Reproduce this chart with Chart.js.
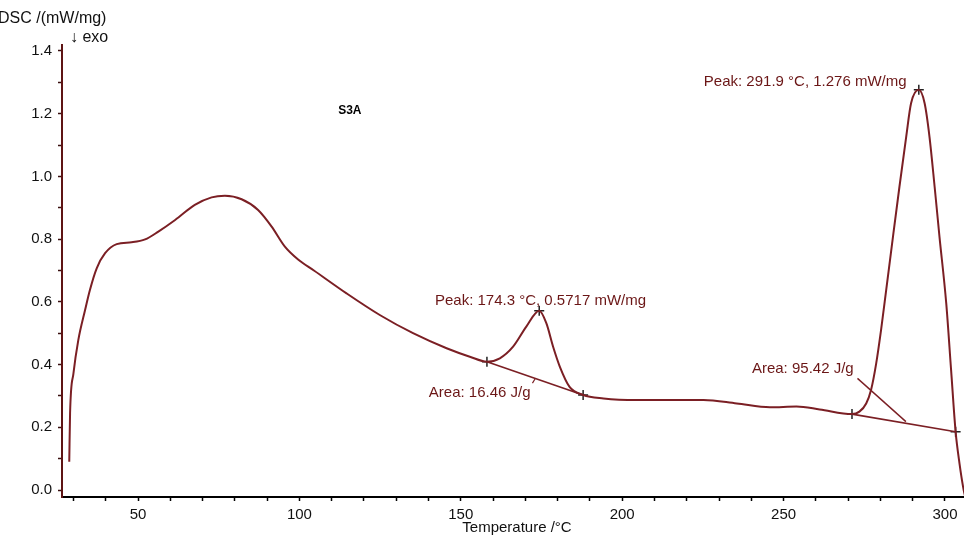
<!DOCTYPE html>
<html>
<head>
<meta charset="utf-8">
<script src="https://cdn.jsdelivr.net/npm/chart.js@4/dist/chart.umd.min.js"></script>
<style>
  body { margin: 0; background: #fff; }
  canvas { display: block; }
</style>
</head>
<body>
<canvas id="dsc" width="964" height="538"></canvas>
<script>
// DSC trace, sample S3A (temperature in °C, DSC in mW/mg)
const temps = [28.7, 28.95, 30.0, 31.5, 33.6, 35.1, 37.2, 39.8, 43.4, 48.0, 52.2, 56.3, 61.5, 67.6,
  72.8, 76.9, 82.1, 87.2, 91.4, 95.5, 99.6, 104.5, 114.6, 124.9, 135.2, 145.6, 152.8, 158.1,
  162.1, 166.2, 170.3, 174.3, 176.5, 178.6, 180.7, 183.7, 187.9, 194.2, 204.5, 225.2, 235.5,
  245.8, 254.0, 261.2, 271.2, 273.5, 275.6, 277.1, 278.7, 280.2, 281.8, 283.9, 285.9, 288.0,
  289.5, 291.9, 293.7, 295.2, 296.8, 298.3, 300.4, 301.9, 303.3, 304.5, 305.8, 306.5];
const dsc = [0.090, 0.245, 0.372, 0.478, 0.574, 0.638, 0.707, 0.755, 0.784, 0.790, 0.799, 0.824, 0.861, 0.909,
  0.933, 0.938, 0.927, 0.893, 0.840, 0.776, 0.735, 0.700, 0.627, 0.558, 0.500, 0.452, 0.425, 0.409,
  0.420, 0.457, 0.521, 0.5717, 0.532, 0.457, 0.393, 0.329, 0.303, 0.292, 0.287, 0.287, 0.276,
  0.264, 0.266, 0.257, 0.242, 0.250, 0.276, 0.319, 0.404, 0.510, 0.638, 0.808, 0.967, 1.127,
  1.233, 1.276, 1.233, 1.127, 0.967, 0.808, 0.595, 0.383, 0.186, 0.085, 0.0, -0.03];

// integration baselines and markers
const base1T = [158.1, 187.9];
const base1V = [0.409, 0.303];
const base2T = [271.2, 303.3];
const base2V = [0.242, 0.186];
const markT = [158.1, 174.3, 187.9, 271.2, 291.9, 303.3];
const markV = [0.409, 0.5717, 0.303, 0.242, 1.276, 0.186];
// leader lines from the area labels
const lead1T = [172.2, 173.0];
const lead1V = [0.341, 0.354];
const lead2T = [272.9, 287.9];
const lead2V = [0.356, 0.218];

const xTickLabels = [50, 100, 150, 200, 250, 300];
const yTickLabels = [0.0, 0.2, 0.4, 0.6, 0.8, 1.0, 1.2, 1.4];

const maroon = '#7b1f24';
const textRed = '#6b1616';

function pts(xs, ys) { return xs.map((x, i) => ({ x: x, y: ys[i] })); }

const notes = {
  id: 'notes',
  afterDatasetsDraw(chart) {
    const c = chart.ctx, x = chart.scales.x, y = chart.scales.y;
    c.save();
    c.textBaseline = 'middle';
    c.fillStyle = textRed;
    c.font = '15px "Liberation Sans", Arial, sans-serif';
    c.textAlign = 'left';
    c.fillText('Peak: 174.3 °C, 0.5717 mW/mg', x.getPixelForValue(142.0), y.getPixelForValue(0.603));
    c.fillText('Area: 16.46 J/g', x.getPixelForValue(140.1), y.getPixelForValue(0.309));
    c.fillText('Area: 95.42 J/g', x.getPixelForValue(240.2), y.getPixelForValue(0.386));
    c.fillText('Peak: 291.9 °C, 1.276 mW/mg', x.getPixelForValue(225.3), y.getPixelForValue(1.301));

    c.fillStyle = '#000';
    c.font = 'bold 12px "Liberation Sans", Arial, sans-serif';
    c.fillText('S3A', x.getPixelForValue(112.0), y.getPixelForValue(1.209));

    // axis titles
    c.fillStyle = '#111';
    c.font = '16px "Liberation Sans", Arial, sans-serif';
    c.fillText('DSC /(mW/mg)', -2, 19);
    c.fillText('↓ exo', 70, 38);
    c.font = '15px "Liberation Sans", Arial, sans-serif';
    c.textAlign = 'center';
    c.fillText('Temperature /°C', 517, 528);
    c.restore();
  }
};

new Chart(document.getElementById('dsc'), {
  type: 'line',
  data: {
    datasets: [
      { data: pts(temps, dsc), borderColor: maroon, borderWidth: 2, pointRadius: 0, cubicInterpolationMode: 'monotone' },
      { data: pts(base1T, base1V), borderColor: maroon, borderWidth: 1.6, pointRadius: 0 },
      { data: pts(base2T, base2V), borderColor: maroon, borderWidth: 1.6, pointRadius: 0 },
      { data: pts(lead1T, lead1V), borderColor: maroon, borderWidth: 1.2, pointRadius: 0 },
      { data: pts(lead2T, lead2V), borderColor: maroon, borderWidth: 1.4, pointRadius: 0 },
      { data: pts(markT, markV), showLine: false, pointStyle: 'cross', pointRadius: 5,
        borderColor: '#222', borderWidth: 1.5 }
    ]
  },
  options: {
    responsive: false,
    animation: false,
    layout: { autoPadding: false, padding: { top: 45, left: 0, right: 0, bottom: 0 } },
    scales: {
      x: {
        type: 'linear',
        min: 26.45,
        max: 305.9,
        afterFit(s) { s.height = 41; s.paddingLeft = 0; s.paddingRight = 0; },
        border: { color: '#000', width: 2 },
        grid: { drawOnChartArea: false, tickLength: 4, tickColor: '#000', tickWidth: 1.5 },
        ticks: {
          stepSize: 10,
          includeBounds: false,
          autoSkip: false,
          maxRotation: 0,
          padding: 5,
          color: '#111',
          font: { family: '"Liberation Sans", Arial, sans-serif', size: 15 },
          callback: v => xTickLabels.includes(Math.round(v)) && Math.abs(v - Math.round(v)) < 1e-6 ? String(Math.round(v)) : ''
        }
      },
      y: {
        min: -0.0223,
        max: 1.419,
        afterFit(s) { s.width = 62; s.paddingTop = 0; s.paddingBottom = 0; },
        border: { color: '#5e1414', width: 2 },
        grid: { drawOnChartArea: false, tickLength: 4, tickColor: '#3a1010', tickWidth: 1.5 },
        ticks: {
          stepSize: 0.1,
          includeBounds: false,
          autoSkip: false,
          padding: 6,
          color: '#111',
          font: { family: '"Liberation Sans", Arial, sans-serif', size: 15 },
          callback: v => {
            const hit = yTickLabels.find(t => Math.abs(t - v) < 1e-6);
            return hit === undefined ? '' : hit.toFixed(1);
          }
        }
      }
    },
    plugins: {
      legend: { display: false },
      tooltip: { enabled: false }
    }
  },
  plugins: [notes]
});
</script>
</body>
</html>
